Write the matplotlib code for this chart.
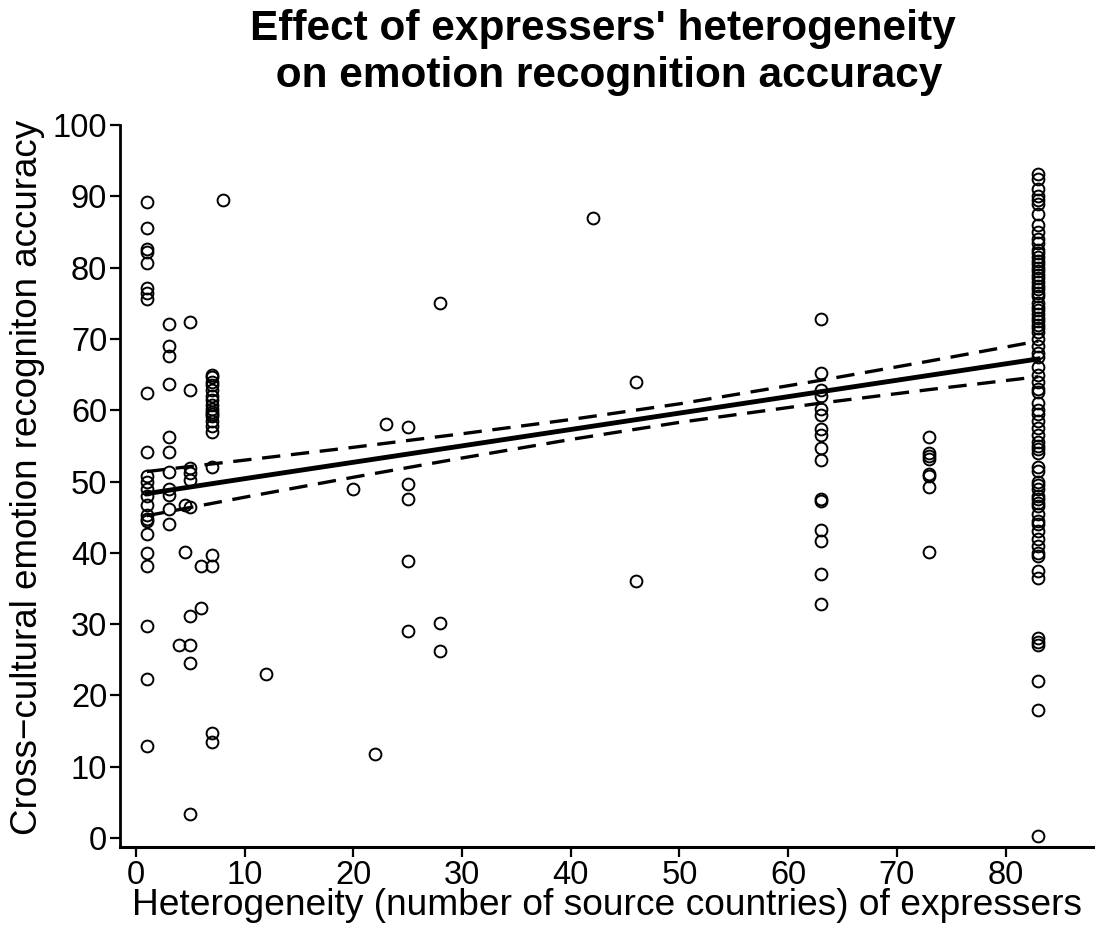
import numpy as np
import matplotlib
matplotlib.use('Agg')
from matplotlib import pyplot as plt

plt.rcParams['font.family'] = ['Liberation Sans', 'DejaVu Sans']

# heterogeneity (number of source countries) and accuracy, read column by column
x1 = [1]*24
y1 = [89.2, 85.6, 82.6, 82.2, 80.7, 77.1, 76.4, 75.6, 62.4, 54.2, 50.8, 50.0,
      49.0, 47.9, 46.7, 45.3, 44.8, 44.4, 42.7, 40.0, 38.1, 29.7, 22.3, 12.9]
x3 = [3]*11
y3 = [72.1, 69.0, 67.6, 63.7, 56.2, 54.2, 51.3, 49.0, 48.1, 46.1, 44.0]
x4 = [4, 4.5, 4.5]
y4 = [27.0, 46.7, 40.1]
x5 = [5]*10
y5 = [72.4, 62.9, 51.9, 51.2, 50.2, 46.4, 31.1, 27.0, 24.5, 3.4]
x6 = [6, 6]
y6 = [38.1, 32.3]
x7 = [7]*20
y7 = [65.0, 64.6, 64.0, 63.5, 62.8, 62.0, 61.5, 60.8, 60.2, 59.8, 59.5, 59.2,
      58.5, 57.8, 57.0, 52.1, 39.7, 38.1, 14.7, 13.5]
x8 = [8]
y8 = [89.5]
xmid = [12, 20, 22, 23, 25, 25, 25, 25, 25, 28, 28, 28, 42, 46, 46]
ymid = [23.0, 49.0, 11.8, 58.0, 57.7, 49.7, 47.6, 38.8, 29.0, 75.0, 30.2, 26.2,
        87.0, 64.0, 36.0]
x63 = [63]*16
y63 = [72.8, 65.2, 62.9, 60.2, 59.3, 57.3, 56.5, 54.7, 53.0, 47.5, 47.2, 43.2,
       41.6, 37.0, 32.8, 62.0]
x73 = [73]*8
y73 = [56.2, 54.0, 53.6, 53.2, 51.0, 50.8, 49.2, 40.1]
y83 = [93.2, 92.5, 91.0, 90.0, 89.5, 89.0, 87.5, 86.0, 85.0, 84.0, 83.5, 82.5,
       82.0, 81.5, 81.0, 80.5, 80.0, 79.5, 79.0, 78.5, 78.0, 77.5, 77.0, 76.5,
       76.0, 75.0, 74.5, 74.0, 73.5, 73.0, 72.5, 72.0, 71.5, 71.0, 70.0, 69.0,
       68.0, 67.5, 66.0, 65.0, 64.0, 63.0, 62.5, 61.0, 60.0, 59.5, 58.5, 57.5,
       56.5, 55.5, 55.0, 54.5, 54.0, 52.0, 51.5, 50.0, 49.5, 49.0, 48.0, 47.5,
       47.0, 46.5, 45.5, 44.5, 44.0, 43.0, 42.0, 41.0, 40.0, 39.5, 37.5, 36.5,
       28.0, 27.5, 27.0, 22.0, 18.0, 0.2]
x83 = [83]*len(y83)

# fitted line and confidence band
fit_x = [1, 10, 20, 30, 40, 50, 63, 73, 83]
fit_y = [48.3, 50.4, 52.7, 55.0, 57.3, 59.6, 62.6, 64.9, 67.2]
ci_hi = [51.4, 53.0, 54.8, 56.7, 58.7, 60.9, 64.2, 66.9, 69.7]
ci_lo = [45.2, 47.8, 50.6, 53.3, 55.9, 58.3, 61.0, 62.9, 64.7]

xs = x1 + x3 + x4 + x5 + x6 + x7 + x8 + xmid + x63 + x73 + x83
ys = y1 + y3 + y4 + y5 + y6 + y7 + y8 + ymid + y63 + y73 + y83

fig = plt.figure(figsize=(10.98, 9.34), dpi=100)
ax = fig.add_axes([0.109, 0.093, 0.886, 0.773])

ax.plot(xs, ys, 'o', ms=8.5, mfc='none', mec='black', mew=1.4, zorder=2)
ax.plot(fit_x, fit_y, '-', color='black', lw=3.5, zorder=3)
ax.plot(fit_x, ci_hi, '--', color='black', lw=2.4, dashes=(5.5, 3.2), zorder=3)
ax.plot(fit_x, ci_lo, '--', color='black', lw=2.4, dashes=(5.5, 3.2), zorder=3)

ax.set_xlim(-1.5, 88)
ax.set_ylim(-1.3, 100)
ax.set_xticks(np.arange(0, 81, 10))
ax.set_yticks(np.arange(0, 101, 10))
for s in ['top', 'right']:
    ax.spines[s].set_visible(False)
ax.spines['left'].set_linewidth(2)
ax.spines['bottom'].set_linewidth(2.2)
ax.spines['left'].set_bounds(-1.3, 100)
ax.tick_params(axis='both', labelsize=23.5, width=1.6, length=7, direction='out', pad=2)

ax.set_xlabel('Heterogeneity (number of source countries) of expressers', fontsize=26.7)
ax.set_ylabel('Cross\u2212cultural emotion recogniton accuracy', fontsize=26.5)
ax.xaxis.set_label_coords(0.501, -0.056)
ax.yaxis.set_label_coords(-0.077, 0.512)
fig.suptitle("Effect of expressers' heterogeneity\n on emotion recognition accuracy",
             fontsize=30.5, fontweight='bold', y=0.99, x=0.549, linespacing=1.2)

fig.savefig('out.png', dpi=100)
